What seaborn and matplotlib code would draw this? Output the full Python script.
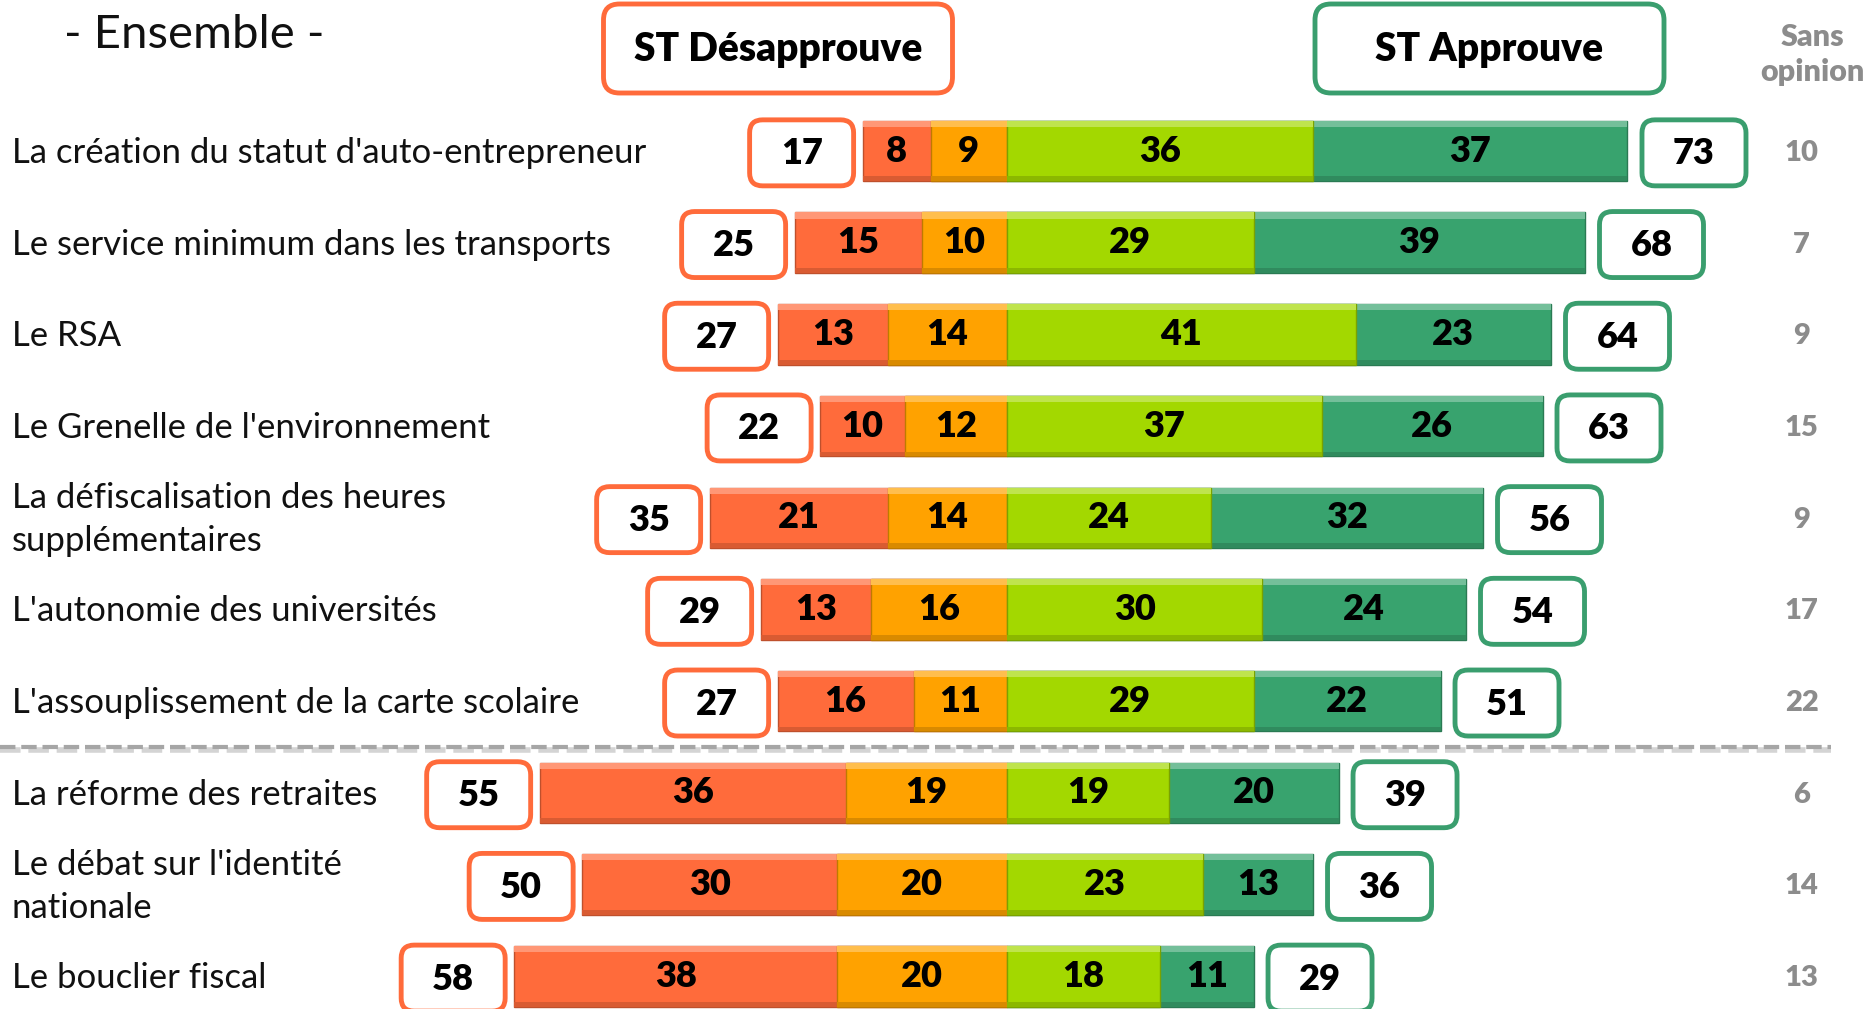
import numpy as np
import pandas as pd
import seaborn as sb
from matplotlib import pyplot as plt
from matplotlib import colors as mcolors
from matplotlib.patches import FancyBboxPatch, Rectangle
from matplotlib.transforms import ScaledTranslation, blended_transform_factory

items = [
    "La création du statut d'auto-entrepreneur",
    "Le service minimum dans les transports",
    "Le RSA",
    "Le Grenelle de l'environnement",
    "La défiscalisation des heures\nsupplémentaires",
    "L'autonomie des universités",
    "L'assouplissement de la carte scolaire",
    "La réforme des retraites",
    "Le débat sur l'identité\nnationale",
    "Le bouclier fiscal",
]
pas_du_tout = [8, 15, 13, 10, 21, 13, 16, 36, 30, 38]
plutot_pas = [9, 10, 14, 12, 14, 16, 11, 19, 20, 20]
plutot = [36, 29, 41, 37, 24, 30, 29, 19, 23, 18]
tout_a_fait = [37, 39, 23, 26, 32, 24, 22, 20, 13, 11]
st_desapprouve = [17, 25, 27, 22, 35, 29, 27, 55, 50, 58]
st_approuve = [73, 68, 64, 63, 56, 54, 51, 39, 36, 29]
sans_opinion = [10, 7, 9, 15, 9, 17, 22, 6, 14, 13]

RED = "#FF6B3B"
ORANGE = "#FFA200"
LIME = "#A3D800"
GREEN = "#38A36E"
BOX_RED = "#FF6B3B"
BOX_GREEN = "#3A9E6E"
GREY = "#8C8C8C"


def shade(c, f):
    r = np.array(mcolors.to_rgb(c))
    if f > 0:
        r = r + (1 - r) * f
    else:
        r = r * (1 + f)
    return tuple(r)


sb.set_theme(style="white")
plt.rcParams['font.family'] = ['Lato', 'DejaVu Sans']

df = pd.DataFrame({
    "item": items,
    "pas_du_tout": pas_du_tout,
    "plutot_pas": plutot_pas,
    "plutot": plutot,
    "tout_a_fait": tout_a_fait,
})
df["neg_total"] = -(df.pas_du_tout + df.plutot_pas)
df["neg_inner"] = -df.plutot_pas
df["pos_total"] = df.plutot + df.tout_a_fait
df["pos_inner"] = df.plutot

fig = plt.figure(figsize=(18.68, 10.09), dpi=100)
ax = fig.add_axes([0, 0, 1, 1])

# stacked diverging bars: long bar first, inner segment drawn over it
layers = [("neg_total", RED, 1), ("neg_inner", ORANGE, 3),
          ("pos_total", GREEN, 1), ("pos_inner", LIME, 3)]
for col, color, z in layers:
    n_before = len(ax.patches)
    sb.barplot(data=df, x=col, y="item", orient="h", color=color,
               saturation=1, width=0.66, edgecolor=shade(color, -0.25),
               linewidth=1, ax=ax, zorder=z)
    for p in ax.patches[n_before:n_before + len(df)]:
        p.set_zorder(z)
        x0, y0, w, h = p.get_x(), p.get_y(), p.get_width(), p.get_height()
        ax.add_patch(Rectangle((x0, y0), w, h * 0.1, color=shade(color, 0.3),
                               lw=0, zorder=z + 0.5))
        ax.add_patch(Rectangle((x0, y0 + h * 0.92), w, h * 0.08, color=shade(color, -0.15),
                               lw=0, zorder=z + 0.5))

ax.set_xlim(-118.5, 101.3)
ax.set_ylim(9.357, -1.647)
ax.axis("off")

num_kw = dict(ha="center", va="center", fontsize=26, fontweight="heavy", color="black")
for i, row in df.iterrows():
    ax.text(row.neg_inner - row.pas_du_tout / 2, i, str(row.pas_du_tout), zorder=6, **num_kw)
    ax.text(row.neg_inner / 2, i, str(row.plutot_pas), zorder=6, **num_kw)
    ax.text(row.plutot / 2, i, str(row.plutot), zorder=6, **num_kw)
    ax.text(row.plutot + row.tout_a_fait / 2, i, str(row.tout_a_fait), zorder=6, **num_kw)


def num_box(x, y, dx, txt, ec):
    tr = fig.dpi_scale_trans + ScaledTranslation(x, y, ax.transData)
    ax.add_patch(FancyBboxPatch((dx - 0.52, -0.33), 1.04, 0.66,
                                boxstyle="round,pad=0,rounding_size=0.13",
                                transform=tr, fc="white", ec=ec, lw=3.5, zorder=7))
    ax.text(dx, -0.01, txt, transform=tr, zorder=8, **num_kw)


for i in range(len(df)):
    num_box(df.neg_total[i], i + 0.02, -0.61, str(st_desapprouve[i]), BOX_RED)
    num_box(df.pos_total[i], i + 0.02, 0.665, str(st_approuve[i]), BOX_GREEN)

lab_tr = blended_transform_factory(ax.transAxes, ax.transData)
for i, lab in enumerate(items):
    ax.text(0.0064, i + 0.02, lab, transform=lab_tr, ha="left", va="center",
            fontsize=25, color="#111111", linespacing=1.45)
    ax.text(0.9645, i + 0.02, str(sans_opinion[i]), transform=lab_tr, ha="center", va="center",
            fontsize=21, fontweight="heavy", color=GREY)

# separator between the two groups (with a soft shadow)
ax.plot([0, 0.98], [6.535, 6.535], transform=lab_tr, color="#D4D4D4", lw=4,
        linestyle=(0, (3.7, 1.4)))
ax.plot([0, 0.98], [6.5, 6.5], transform=lab_tr, color="#A6A6A6", lw=3,
        linestyle=(0, (3.7, 1.4)))

# header
fig.text(0.0345, 0.965, "- Ensemble -", ha="left", va="center", fontsize=34,
         color="#111111")
for cx, txt, ec in [(778 / 1868, "ST Désapprouve", BOX_RED), (1489.5 / 1868, "ST Approuve", BOX_GREEN)]:
    tr = fig.dpi_scale_trans + ScaledTranslation(cx, 1 - 48.5 / 1009, fig.transFigure)
    fig.patches.append(FancyBboxPatch((-1.745, -0.445), 3.49, 0.89,
                                      boxstyle="round,pad=0,rounding_size=0.16",
                                      transform=tr, fc="white", ec=ec, lw=3.5))
    fig.text(0, -0.01, txt, transform=tr, ha="center", va="center", fontsize=28,
             fontweight="heavy", color="black")
fig.text(0.9705, 0.946, "Sans\nopinion", ha="center", va="center", fontsize=22,
         fontweight="heavy", color=GREY, linespacing=1.3)

fig.savefig("out.png", dpi=100)
